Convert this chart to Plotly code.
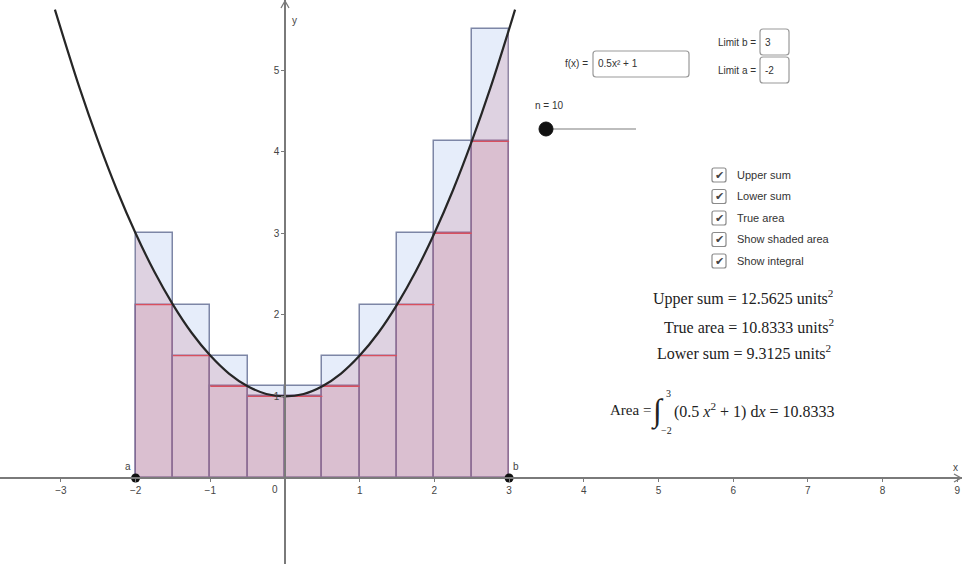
import plotly.graph_objects as go

# ---------------- data ----------------
rect_left = [-2.0, -1.5, -1.0, -0.5, 0.0, 0.5, 1.0, 1.5, 2.0, 2.5]
rect_width = 0.5
upper_vals = [3.0, 2.125, 1.5, 1.125, 1.125, 1.5, 2.125, 3.0, 4.125, 5.5]
lower_vals = [2.125, 1.5, 1.125, 1.0, 1.0, 1.125, 1.5, 2.125, 3.0, 4.125]

curve_x = [-3.08, -2.75, -2.5, -2.25, -2.0, -1.75, -1.5, -1.25, -1.0, -0.75, -0.5, -0.25, 0.0,
           0.25, 0.5, 0.75, 1.0, 1.25, 1.5, 1.75, 2.0, 2.25, 2.5, 2.75, 3.0, 3.08]
curve_y = [5.74, 4.78, 4.125, 3.53, 3.0, 2.53, 2.125, 1.78, 1.5, 1.28, 1.125, 1.03, 1.0,
           1.03, 1.125, 1.28, 1.5, 1.78, 2.125, 2.53, 3.0, 3.53, 4.125, 4.78, 5.5, 5.74]

limit_a = -2
limit_b = 3
n_rects = 10
x_ticks = [-3, -2, -1, 1, 2, 3, 4, 5, 6, 7, 8, 9]
y_ticks = [1, 2, 3, 4, 5]
checkbox_labels = ["Upper sum", "Lower sum", "True area", "Show shaded area", "Show integral"]
upper_sum_txt = "12.5625"
true_area_txt = "10.8333"
lower_sum_txt = "9.3125"

# ---------------- geometry ----------------
W, H = 962, 564
X_RANGE = [-3.815, 9.063]
Y_RANGE = [-1.054, 5.858]


def px(x):
    return x / W


def py(y):
    return 1 - y / H


mids = [l + rect_width / 2 for l in rect_left]
fig = go.Figure()

# upper sum rectangles
fig.add_trace(go.Bar(x=mids, y=upper_vals, width=rect_width,
                     marker=dict(color="rgba(160,185,235,0.26)",
                                 line=dict(color="#7d86a6", width=1.5)),
                     hoverinfo="skip", showlegend=False))
# lower sum rectangles
fig.add_trace(go.Bar(x=mids, y=lower_vals, width=rect_width,
                     marker=dict(color="rgba(210,130,150,0.24)",
                                 line=dict(color="#7a6592", width=1.5)),
                     hoverinfo="skip", showlegend=False))

# true area under the curve between a and b
ta_x = [x for x in curve_x if limit_a <= x <= limit_b]
ta_y = [y for x, y in zip(curve_x, curve_y) if limit_a <= x <= limit_b]
fig.add_trace(go.Scatter(x=ta_x, y=ta_y, mode="lines", fill="tozeroy",
                         fillcolor="rgba(200,140,160,0.28)",
                         line=dict(width=0, shape="spline"),
                         hoverinfo="skip", showlegend=False))

# red tops of lower rectangles
red_x, red_y = [], []
for l, v in zip(rect_left, lower_vals):
    red_x += [l, l + rect_width, None]
    red_y += [v, v, None]
fig.add_trace(go.Scatter(x=red_x, y=red_y, mode="lines",
                         line=dict(color="#d8505f", width=1.4),
                         hoverinfo="skip", showlegend=False))

# curve
fig.add_trace(go.Scatter(x=curve_x, y=curve_y, mode="lines",
                         line=dict(color="#262626", width=2.2, shape="spline"),
                         hoverinfo="skip", showlegend=False))

# points a, b
fig.add_trace(go.Scatter(x=[limit_a, limit_b], y=[0, 0], mode="markers",
                         marker=dict(color="#111", size=9),
                         hoverinfo="skip", showlegend=False))

x_pos = (0 - Y_RANGE[0]) / (Y_RANGE[1] - Y_RANGE[0])
y_pos = (0 - X_RANGE[0]) / (X_RANGE[1] - X_RANGE[0])

fig.update_layout(
    width=W, height=H, margin=dict(l=0, r=0, t=0, b=0),
    paper_bgcolor="white", plot_bgcolor="white",
    barmode="overlay", bargap=0,
    font=dict(family="Liberation Sans, Arial, sans-serif", color="#444"),
    xaxis=dict(range=X_RANGE, showgrid=False, zeroline=False, anchor="free",
               position=x_pos, showline=True, linecolor="#7a7a7a", linewidth=1.5,
               ticks="outside", ticklen=3, tickcolor="#7a7a7a",
               tickvals=x_ticks, ticktext=[str(t).replace("-", "\u2212") for t in x_ticks],
               tickfont=dict(size=10, color="#444"), fixedrange=True),
    yaxis=dict(range=Y_RANGE, showgrid=False, zeroline=False, anchor="free",
               position=y_pos, showline=True, linecolor="#7a7a7a", linewidth=1.5,
               ticks="outside", ticklen=3, tickcolor="#7a7a7a",
               tickvals=y_ticks, tickfont=dict(size=10, color="#444"), fixedrange=True),
)

ann = []
shapes = []
sans = "Liberation Sans, Arial, sans-serif"
serif = "Liberation Serif, Times New Roman, serif"


def text(x, y, s, size=10, color="#444", family=sans, xanchor="left", yanchor="middle"):
    ann.append(dict(x=px(x), y=py(y), xref="paper", yref="paper", text=s,
                    showarrow=False, xanchor=xanchor, yanchor=yanchor,
                    font=dict(size=size, color=color, family=family)))


def rrect_paper(x0, y0, x1, y1, r=3, line="#999", fill="white"):
    def P(a, b):
        return f"{px(a):.5f},{py(b):.5f}"
    p = (f"M {P(x0 + r, y0)} L {P(x1 - r, y0)} Q {P(x1, y0)} {P(x1, y0 + r)} "
         f"L {P(x1, y1 - r)} Q {P(x1, y1)} {P(x1 - r, y1)} L {P(x0 + r, y1)} "
         f"Q {P(x0, y1)} {P(x0, y1 - r)} L {P(x0, y0 + r)} Q {P(x0, y0)} {P(x0 + r, y0)} Z")
    shapes.append(dict(type="path", xref="paper", yref="paper", path=p,
                       line=dict(color=line, width=1.2), fillcolor=fill))


# axis labels & origin label & point labels
text(275, 489, "0", xanchor="center")
text(955, 467, "x", xanchor="center")
text(294, 20, "y", xanchor="center")
text(128, 466, "a", xanchor="center")
text(516, 466, "b", xanchor="center")

# axis arrows
shapes.append(dict(type="path", xref="paper", yref="paper",
                   path=f"M {px(954):.5f},{py(474):.5f} L {px(961):.5f},{py(478):.5f} L {px(954):.5f},{py(482):.5f}",
                   line=dict(color="#7a7a7a", width=1.3)))
shapes.append(dict(type="path", xref="paper", yref="paper",
                   path=f"M {px(281):.5f},{py(8):.5f} L {px(285):.5f},{py(1):.5f} L {px(289):.5f},{py(8):.5f}",
                   line=dict(color="#7a7a7a", width=1.3)))

# input boxes
text(590, 64, "f(x) =", xanchor="right", color="#333")
rrect_paper(593, 51, 689, 77)
text(596, 64, "0.5x\u00b2 + 1", color="#333")

text(758, 42, "Limit b =", xanchor="right", color="#333")
rrect_paper(760, 29, 789, 55)
text(763, 42, str(limit_b), color="#333")

text(758, 70, "Limit a =", xanchor="right", color="#333")
rrect_paper(760, 57, 789, 83)
text(763, 70, str(limit_a), color="#333")

# slider
text(533, 105, "n = " + str(n_rects), color="#333")
shapes.append(dict(type="line", xref="paper", yref="paper", x0=px(546), x1=px(636),
                   y0=py(129), y1=py(129), line=dict(color="#bdbdbd", width=2)))
shapes.append(dict(type="circle", xref="paper", yref="paper", x0=px(539), x1=px(553),
                   y0=py(136), y1=py(122), fillcolor="#111", line=dict(color="#111", width=1)))

# checkboxes
for i, lab in enumerate(checkbox_labels):
    cy = 175 + i * 21.5
    rrect_paper(712, cy - 7, 726, cy + 7, r=2, line="#8a8a8a")
    text(719, cy, "\u2714", size=11, color="#444", xanchor="center")
    text(735, cy, lab, size=11, color="#333")

# sums
text(651, 297, "Upper sum = " + upper_sum_txt + " units<sup>2</sup>", size=16, color="#222", family=serif)
text(662, 326, "True area = " + true_area_txt + " units<sup>2</sup>", size=16, color="#222", family=serif)
text(655, 352, "Lower sum = " + lower_sum_txt + " units<sup>2</sup>", size=16, color="#222", family=serif)

# integral
text(608, 410, "Area =", size=15, color="#222", family=serif)
text(657, 411, "\u222b", size=32, color="#222", family=serif, xanchor="center")
text(664, 393, str(limit_b), size=10, color="#222", family=serif)
text(659, 430, "\u2212" + str(abs(limit_a)), size=10, color="#222", family=serif)
text(672, 410, "(0.5 <i>x</i><sup>2</sup> + 1) d<i>x</i> = " + true_area_txt, size=16,
     color="#222", family=serif)

fig.update_layout(annotations=ann, shapes=shapes)
fig.write_html("out.html", config={"displayModeBar": False},
               post_script="document.body.style.margin='0px';document.body.style.overflow='hidden';")
